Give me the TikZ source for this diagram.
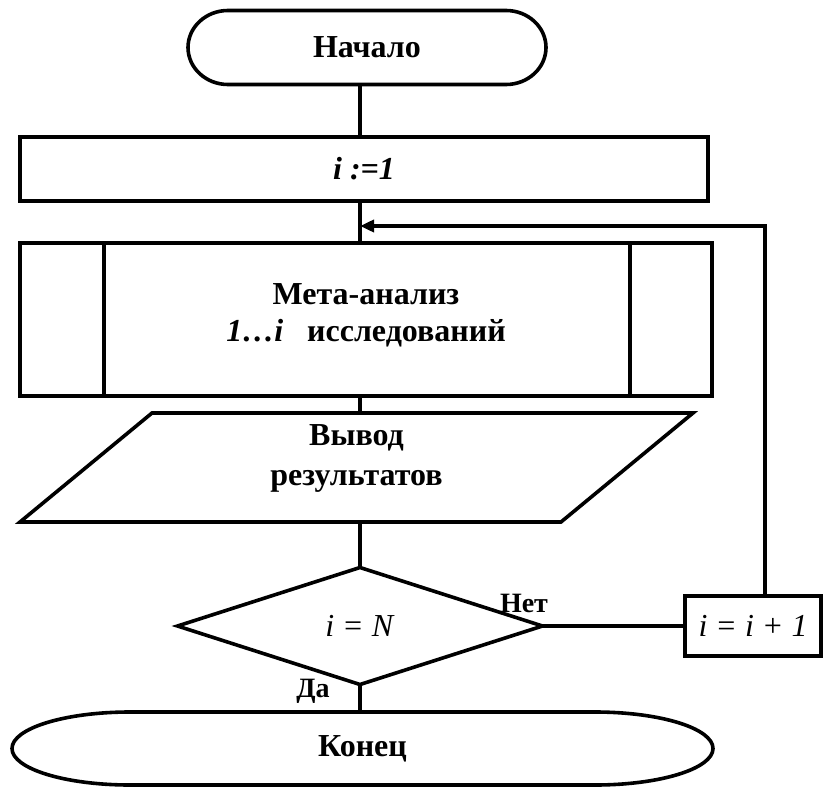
\documentclass[tikz,border=0pt]{standalone}
\usepackage{fontspec}
\setmainfont{Liberation Serif}
\usetikzlibrary{shapes.geometric,arrows.meta,calc}

\begin{document}
\begin{tikzpicture}[x=0.5pt,y=-0.5pt,line width=1.8pt,
  txt/.style={font=\fontsize{16}{19}\selectfont\bfseries,align=center,inner sep=0pt,outer sep=0pt},
  lbl/.style={font=\fontsize{14}{16}\selectfont\bfseries,inner sep=0pt},
  box/.style={txt,draw,rectangle},
  term/.style={txt,rectangle,minimum height=37pt}]
\useasboundingbox (0,0) rectangle (830,787);
\coordinate (ax) at (360,0);
% terminals
\node[term,minimum width=179pt] (start) at (367,47.5) {Начало};
\draw ($(start.north west)+(40,0)$) -- ($(start.north east)+(-40,0)$)
  arc[start angle=-90,end angle=90,x radius=40,y radius=37]
  -- ($(start.south west)+(40,0)$)
  arc[start angle=90,end angle=270,x radius=40,y radius=37] -- cycle;
\node[term,minimum width=350.5pt,minimum height=36.5pt] (end) at (362.5,748.5) {Конец};
\draw ($(end.north west)+(118,0)$) -- ($(end.north east)+(-118,0)$)
  arc[start angle=-90,end angle=90,x radius=118,y radius=36.5]
  -- ($(end.south west)+(118,0)$)
  arc[start angle=90,end angle=270,x radius=118,y radius=36.5] -- cycle;
% blocks
\node[box,minimum width=344pt,minimum height=32pt] (init) at (364,169) {\textit{i :=1}};
\node[box,minimum width=346pt,minimum height=76.5pt] (meta) at (366,319.5) {};
\node[txt] (metaT) at (366,315) {Мета-анализ\\[-0.5pt]\textit{1…i}\ \ \ исследований};
\draw ($(meta.north west)+(84,0)$) -- ($(meta.south west)+(84,0)$);
\draw ($(meta.north east)+(-82,0)$) -- ($(meta.south east)+(-82,0)$);
\node[txt,minimum width=336.5pt,minimum height=54.5pt] (outp) at (356.5,467.5) {};
\node[txt] (outpT) at (356.5,458) {Вывод\\[1pt]результатов};
\draw ($(outp.north west)+(132,0)$) -- (outp.north east)
  -- ($(outp.south east)+(-132,0)$) -- (outp.south west) -- cycle;
\node[txt,draw,diamond,aspect=3,minimum width=182.5pt,minimum height=58.5pt,
  font=\fontsize{16}{19}\selectfont\mdseries] (cond) at (360,626) {\textit{i = N}};
\node[box,minimum width=68pt,minimum height=30pt,font=\fontsize{16}{19}\selectfont]
  (inc) at (753,626) {\textit{i = i + 1}};
% connectors
\draw (start.south -| ax) -- (init.north -| ax);
\draw (init.south -| ax) -- (meta.north -| ax);
\draw (meta.south -| ax) -- (outp.north -| ax);
\draw (outp.south -| ax) -- (cond.north);
\draw (cond.east) -- (inc.west);
\draw (cond.south) -- (end.north -| cond.south);
\coordinate (fb) at (360,226);
\coordinate (up) at (765,226);
\draw[-{Triangle[length=7pt,width=6pt]}] (inc.north -| up) -- (up) -- (fb);
% labels
\node[lbl] (no) at (524,603) {Нет};
\node[lbl] (yes) at (313,691) {Да};
\end{tikzpicture}
\end{document}
